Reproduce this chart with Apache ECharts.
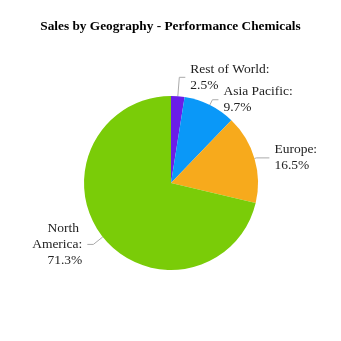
<!DOCTYPE html>
<html><head><meta charset="utf-8">
<script src="https://cdn.jsdelivr.net/npm/echarts@6/dist/echarts.min.js"></script>
<style>html,body{margin:0;padding:0;background:#fff}#c{width:341px;height:341px}</style>
</head><body><div id="c"></div>
<script>
var categories = ['Rest of World', 'Asia Pacific', 'Europe', 'North America'];
var shares = [2.5, 9.7, 16.5, 71.3];
var colors = ['#6a1ee8', '#0a98f8', '#f7aa1c', '#7acc08'];
var lineLen = [19, 6, 2, 12];
var lineLen2 = [6, 6, 13, 6];

var chart = echarts.init(document.getElementById('c'), null, {renderer: 'canvas'});
var data = categories.map(function (n, i) {
  var d = {
    name: n, value: shares[i], itemStyle: {color: colors[i]},
    labelLine: {length: lineLen[i], length2: lineLen2[i]}
  };
  if (n === 'North America') d.label = {width: 56, overflow: 'break', align: 'right'};
  return d;
});
chart.setOption({
  animation: false,
  title: {
    text: 'Sales by Geography - Performance Chemicals',
    left: 'center', top: 15,
    textStyle: {fontFamily: 'Liberation Serif', fontWeight: 'bold', fontSize: 13.3, color: '#000'}
  },
  series: [{
    type: 'pie',
    center: [171, 183],
    radius: 87,
    startAngle: 90,
    clockwise: true,
    avoidLabelOverlap: false,
    labelLayout: {hideOverlap: false},
    data: data,
    label: {
      show: true,
      position: 'outside',
      fontFamily: 'Liberation Serif',
      fontSize: 13.5,
      lineHeight: 16,
      color: '#222',
      formatter: function (p) { return p.name + ':\n' + p.value.toFixed(1) + '%'; }
    },
    labelLine: {show: true, lineStyle: {color: '#aaa', width: 1}},
    itemStyle: {borderWidth: 0}
  }]
});
</script></body></html>
